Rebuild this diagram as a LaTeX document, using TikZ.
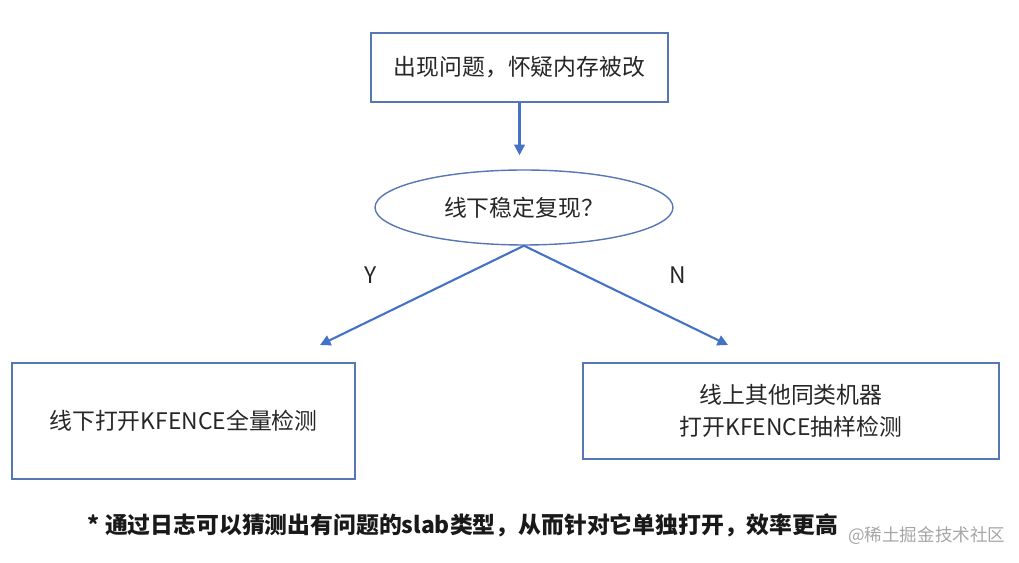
\documentclass[tikz,border=0pt]{standalone}
\usepackage{fontspec}
\setmainfont{Noto Sans CJK SC}
\usetikzlibrary{arrows.meta, positioning, shapes.geometric}
\definecolor{frameblue}{HTML}{5676B4}
\definecolor{arrowblue}{HTML}{4472C4}

\begin{document}
\begin{tikzpicture}[
  x=0.02cm, y=-0.02cm,
  box/.style={draw=frameblue, line width=0.8pt, inner sep=0pt, align=center, text=black!85, font=\fontsize{13}{18.5}\selectfont},
  flow/.style={draw=arrowblue, line width=1.2pt, -{Triangle[length=6pt, width=6pt]}},
]
\useasboundingbox (0,0) rectangle (1019,563);

\node[box, minimum width=5.94cm, minimum height=1.38cm] (issue) at (519.5,67.5) {出现问题，怀疑内存被改};
\node[box, ellipse, minimum width=5.96cm, minimum height=1.5cm] (repro) at (524,207.5) {线下稳定复现？};
\node[box, minimum width=6.86cm, minimum height=2.32cm] (offline) at (183.5,421) {线下打开KFENCE全量检测};
\node[box, minimum width=8.32cm, minimum height=1.92cm] (online) at (791,411) {线上其他同类机器\\打开KFENCE抽样检测};

\coordinate (yesEnd) at (320,345);
\coordinate (noEnd) at (728,345);

\draw[flow, shorten >=8pt] (issue.south) -- (issue.south |- repro.north);
\draw[flow] (repro.south) -- (yesEnd);
\draw[flow] (repro.south) -- (noEnd);

\node[font=\fontsize{13}{16}\selectfont, text=black!85] (yes) at (371,275) {Y};
\node[font=\fontsize{13}{16}\selectfont, text=black!85] (no) at (678,275) {N};

\node[font=\fontsize{13}{16}\selectfont\bfseries, text=black!90] (note) at (463,525) {* 通过日志可以猜测出有问题的slab类型，从而针对它单独打开，效率更高};
\node[font=\fontsize{10}{12}\selectfont, text=black!35, anchor=west] (mark) at (842,536) {@稀土掘金技术社区};

\end{tikzpicture}
\end{document}
